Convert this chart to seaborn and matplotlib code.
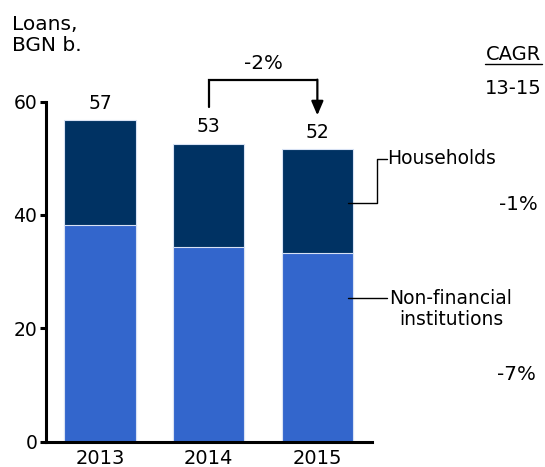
import matplotlib.pyplot as plt
import seaborn as sns
from matplotlib.lines import Line2D

# Loans, BGN b.
years = ["2013", "2014", "2015"]
non_financial = [38.2, 34.3, 33.3]
households = [18.5, 18.3, 18.3]
totals = [a + b for a, b in zip(non_financial, households)]
total_labels = ["57", "53", "52"]
growth_label = "-2%"
cagr_households = "-1%"
cagr_non_financial = "-7%"

dark = "#003263"
light = "#3366CC"
edge = "#d8e2f4"

sns.set_theme(style="white")
plt.rcParams["font.family"] = ["DejaVu Sans"]
fs = 13.5
fs_pct = 14.3

W, H = 545, 467
fig = plt.figure(figsize=(W / 100, H / 100), dpi=100)
ax = fig.add_axes([45.7 / W, 1 - 441.5 / H, 326 / W, 339.8 / H])

def fx(px):
    return px / W

def fy(py):
    return 1 - py / H

# stacked bars: total (households on top) then non-financial over it
sns.barplot(x=years, y=totals, color=dark, saturation=1, width=0.656,
            edgecolor=edge, linewidth=0.8, ax=ax)
sns.barplot(x=years, y=non_financial, color=light, saturation=1, width=0.656,
            edgecolor=edge, linewidth=0.8, ax=ax)

ax.set_xlim(-0.5, 2.5)
ax.set_ylim(0, 60)
ax.set_yticks([0, 20, 40, 60])
ax.set_xlabel("")
ax.set_ylabel("")
for side in ["top", "right"]:
    ax.spines[side].set_visible(False)
for side in ["left", "bottom"]:
    ax.spines[side].set_color("black")
    ax.spines[side].set_linewidth(2.2)
ax.tick_params(axis="y", length=4, width=2.2, color="black", pad=2, labelsize=fs, left=True)
ax.tick_params(axis="x", length=0, pad=5.5, labelsize=14)
for t in ax.get_xticklabels() + ax.get_yticklabels():
    t.set_color("black")

# total labels
for i, (tot, lab) in enumerate(zip(totals, total_labels)):
    ax.annotate(lab, (i, tot), xytext=(0, 12.3), textcoords="offset points",
                ha="center", va="center", fontsize=fs, color="black",
                annotation_clip=False)

# growth bracket 2014 -> 2015
ax.plot([1, 1, 2], [59.1, 63.8, 63.8], color="black", lw=1.6,
        clip_on=False, solid_joinstyle="miter")
ax.annotate("", xy=(2, 57.6), xytext=(2, 63.9),
            arrowprops=dict(arrowstyle="-|>,head_length=0.7,head_width=0.3",
                            color="black", lw=1.6, shrinkA=0, shrinkB=0),
            annotation_clip=False)
ax.text(1.5, 66.7, growth_label, ha="center", va="center", fontsize=fs_pct,
        color="black")

# leader lines to series labels
ax.plot([2.28, 2.55, 2.55, 2.64], [42.2, 42.2, 49.9, 49.9], color="black",
        lw=1.0, clip_on=False)
ax.plot([2.28, 2.64], [25.4, 25.4], color="black", lw=1.0, clip_on=False)
fig.text(fx(387.5), fy(158.5), "Households", ha="left", va="center",
         fontsize=fs, color="black")
fig.text(fx(451), fy(309), "Non-financial\ninstitutions", ha="center",
         va="center", fontsize=fs, color="black", linespacing=1.15)

# titles and CAGR column
fig.text(fx(12), fy(15), "Loans,\nBGN b.", ha="left", va="top", fontsize=14.5,
         color="black", linespacing=1.15)
fig.text(fx(513.5), fy(55), "CAGR", ha="center", va="center", fontsize=14,
         color="black")
fig.add_artist(Line2D([fx(485), fx(542)], [fy(63.5), fy(63.5)],
                      transform=fig.transFigure, color="black", lw=1.0))
fig.text(fx(513.5), fy(88), "13-15", ha="center", va="center", fontsize=14,
         color="black")
fig.text(fx(518), fy(204), cagr_households, ha="center", va="center",
         fontsize=fs_pct, color="black")
fig.text(fx(516), fy(374), cagr_non_financial, ha="center", va="center",
         fontsize=fs_pct, color="black")

fig.savefig("out.png", dpi=100)
